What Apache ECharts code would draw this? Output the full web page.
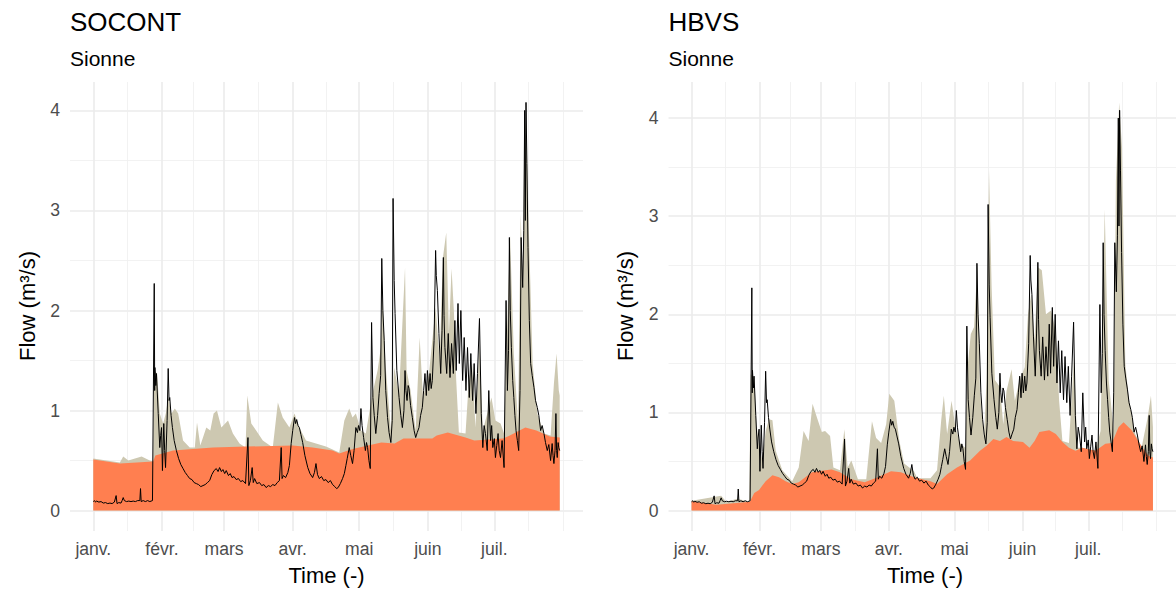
<!DOCTYPE html>
<html><head><meta charset="utf-8">
<script src="https://cdn.jsdelivr.net/npm/echarts@6/dist/echarts.min.js"></script>
<style>html,body{margin:0;padding:0;background:#fff}#c{width:1176px;height:590px}</style>
</head><body><div id="c"></div>
<script>
// ---- axis breaks (day of year, 0 = 1 Jan) ----
const monthStarts = [0, 31, 59, 90, 120, 151, 181];
const monthLabels = ['janv.', 'févr.', 'mars', 'avr.', 'mai', 'juin', 'juil.'];
const monthMids = [15.5, 45, 74.5, 105, 135.5, 166, 196.5, 212];
const yTicks = [0, 1, 2, 3, 4];
const yMinor = [0.5, 1.5, 2.5, 3.5];
const panelTitles = ['SOCONT', 'HBVS'];
const panelSubtitle = 'Sionne';
const xTitle = 'Time (-)';
const yTitle = 'Flow (m³/s)';

// ---- observed flow [day, m3/s] ----
const observed = [
[0,0.09],[0.5,0.10],[1,0.085],[1.5,0.095],[2.5,0.085],[3.5,0.09],[4.5,0.075],[5.5,0.08],[6.5,0.07],[7.5,0.075],[8.5,0.07],[9.5,0.085],[10.3,0.15],[10.7,0.07],[11.5,0.08],[12.5,0.075],[13,0.10],[13.5,0.13],[14,0.10],[15,0.09],[16,0.095],[17,0.09],[18,0.095],[19,0.09],[20,0.10],[21,0.10],[21.3,0.22],[21.6,0.09],[22.5,0.10],[23.5,0.09],[24.5,0.10],[25.5,0.09],[26.7,0.10],
[27.5,2.27],[27.7,1.20],[27.8,1.43],[28.2,1.25],[28.5,1.37],[29.3,0.97],[30,0.63],[30.4,0.75],[30.8,0.83],[31.2,0.40],[31.8,0.87],[32.2,0.60],[32.6,0.43],[33.3,0.90],[33.8,1.42],[34.2,1.10],[34.5,1.13],[35.1,0.95],[35.7,0.83],[36.5,0.70],[37.5,0.60],[38.5,0.52],[39.5,0.46],[40.5,0.42],[41.5,0.38],[42.5,0.35],[43.5,0.32],[44.5,0.31],[45.5,0.28],[46.5,0.27],[47.5,0.26],[48.5,0.24],[49.5,0.25],[50.5,0.26],[51.5,0.28],[52.5,0.30],[53.5,0.36],[54.5,0.40],[55.5,0.42],[56.3,0.39],[57,0.43],[57.8,0.39],[58.5,0.41],[59.3,0.37],[60,0.40],[61,0.35],[61.8,0.37],[62.6,0.33],[63.5,0.34],[64.5,0.31],[65.5,0.32],[66.5,0.29],[67.5,0.30],[68.7,0.27],[69.8,0.73],[70.2,0.25],[70.9,0.30],[71.7,0.43],[72.2,0.28],[72.8,0.32],[73.8,0.27],[75,0.28],[76,0.25],[77,0.26],[78,0.23],[79,0.25],[80,0.24],[81,0.26],[82,0.25],[83,0.28],[84,0.30],[84.8,0.63],[85.2,0.32],[85.8,0.35],[86.8,0.33],[87.8,0.38],[88.5,0.45],[89.3,0.67],[90,0.80],[90.8,0.93],[91.3,0.87],[91.8,0.91],[92.4,0.85],[93,0.83],[93.7,0.76],[94.5,0.68],[95.5,0.55],[96.8,0.43],[97.8,0.37],[99,0.33],[99.8,0.38],[100.5,0.47],[101.2,0.36],[102,0.32],[103,0.34],[104,0.30],[105,0.31],[106,0.28],[107,0.30],[108,0.26],[109,0.24],[109.8,0.22],[110.5,0.23],[111.5,0.27],[112.5,0.32],[113.3,0.37],[114,0.45],[114.6,0.52],[115.5,0.63],[116.2,0.55],[117,0.47],[117.7,0.60],[118.5,0.83],[119.2,0.78],[119.7,0.85],[120.3,0.80],[120.8,1.02],[121.3,0.85],[122,0.73],[122.8,0.60],[123.3,0.68],[123.8,0.63],[124.4,0.50],[125,0.42],[125.6,1.88],[126.2,1.13],[126.8,0.95],[127.5,0.77],[128.3,0.95],[129,1.17],[129.7,1.35],[130.2,2.52],[130.7,2.00],[131.3,1.70],[132,1.20],[132.8,0.93],[133.5,0.78],[134.3,0.68],[134.9,0.90],[135.3,3.12],[135.8,2.30],[136.2,1.97],[137,1.40],[138,1.13],[138.8,0.95],[139.5,0.83],[140.2,1.00],[140.7,1.40],[141.1,1.20],[141.6,1.10],[142.1,1.25],[142.5,1.22],[143.2,1.05],[144,0.93],[144.8,0.80],[145.5,0.73],[146.2,0.78],[147,0.83],[147.7,0.95],[148.5,1.03],[149.1,1.20],[149.7,1.37],[150.3,1.15],[150.8,1.40],[151.4,1.20],[152,1.37],[152.5,1.22],[153,1.30],[153.8,1.70],[154.5,2.60],[154.8,2.35],[155.3,2.20],[156,1.77],[156.8,1.37],[157.4,1.80],[158,2.53],[158.3,1.95],[158.7,1.63],[159.5,1.37],[160.2,1.77],[161,1.33],[161.7,1.67],[162.5,1.37],[163.2,1.90],[163.8,1.40],[164.6,2.07],[165.2,1.47],[165.9,2.00],[166.7,1.30],[167.4,1.73],[168.2,1.20],[168.9,1.63],[169.7,1.13],[170.4,1.57],[171.2,1.10],[171.9,1.47],[172.7,0.97],[173.4,1.37],[174.3,1.92],[175.1,0.97],[175.8,0.63],[176.4,0.85],[177,0.77],[177.8,0.60],[178.5,1.20],[179.3,0.70],[179.8,0.85],[180.3,0.63],[181,0.72],[181.5,0.53],[182.1,0.65],[182.7,0.77],[183.2,0.60],[183.8,0.53],[184.5,0.70],[185.4,0.43],[186.3,2.10],[186.9,1.20],[187.4,1.60],[187.8,2.73],[188.2,2.00],[188.7,1.63],[189.3,1.30],[189.8,1.13],[190.3,0.95],[190.8,0.80],[191.4,0.70],[192,0.60],[192.6,1.20],[193.1,2.73],[193.8,2.23],[194.3,2.80],[194.7,4.00],[195.0,2.90],[195.3,4.08],[195.7,3.47],[196.2,2.63],[196.8,1.90],[197.4,1.47],[198.1,1.35],[198.9,1.23],[199.6,1.10],[200.4,1.03],[201.1,0.95],[201.9,0.80],[202.6,0.85],[203.4,0.77],[204.1,0.68],[204.9,0.60],[205.6,0.66],[206.4,0.50],[207.1,0.67],[207.5,0.55],[207.9,0.47],[208.4,0.60],[208.8,0.97],[209.1,0.60],[209.4,0.53],[209.8,0.68],[210.1,0.63],[210.5,0.60]
];

// ---- SOCONT simulated total flow ----
const socontTotal = [
[0,0.52],[12,0.48],[13.5,0.54],[15.8,0.50],[21.8,0.54],[25.5,0.50],[27,0.49],[27.5,1.40],[28.8,1.37],[30,0.97],[31.5,0.87],[32.7,0.97],[33.8,1.13],[35.3,0.97],[36.8,1.02],[38.3,0.97],[40.5,0.70],[43.5,0.63],[45.8,0.63],[46.8,0.88],[48.3,0.65],[51,0.83],[52.8,0.80],[54.3,0.97],[55.8,1.00],[57.8,0.83],[60.8,0.90],[63,0.77],[66,0.67],[68.7,0.63],[69.5,1.15],[71.3,0.87],[73.5,0.80],[76.5,0.70],[81,0.63],[83.3,1.08],[85.5,0.93],[88.5,0.83],[90.8,0.97],[93,0.83],[96,0.70],[100.5,0.67],[105,0.64],[111,0.58],[113.3,0.90],[115.5,1.02],[117,0.93],[118.5,0.97],[120.8,0.80],[123,0.77],[124.5,0.97],[126,1.17],[128.3,1.40],[129.8,1.63],[130.5,2.13],[132,1.43],[134.3,0.80],[135.8,1.43],[138,1.17],[140.7,2.43],[141.4,1.40],[143.2,1.20],[145.5,0.80],[147.3,1.73],[148.8,1.13],[151.5,1.37],[154.5,2.03],[156.3,1.50],[157.8,2.53],[159.3,2.78],[160.5,1.77],[161.7,2.42],[162.8,1.97],[163.8,1.30],[165,0.78],[168,0.77],[169.5,1.30],[171,1.47],[172.5,0.83],[174.3,1.67],[175.8,0.80],[177.8,0.97],[179.7,1.13],[181.5,0.90],[183.8,0.87],[185.4,0.77],[186.5,1.63],[188.1,2.75],[189.8,1.57],[191.7,0.87],[192.9,2.97],[193.8,2.30],[194.7,4.00],[195.8,3.47],[196.8,2.63],[198.3,1.47],[200.4,0.97],[203.4,0.77],[206.4,0.75],[207.9,1.27],[209.1,1.57],[210.1,1.20],[210.5,1.15]
];
// ---- SOCONT simulated baseflow ----
const socontBase = [
[0,0.51],[12,0.47],[27,0.49],[28,0.55],[36,0.60],[54,0.63],[69,0.64],[90,0.65],[99,0.63],[108,0.60],[111,0.57],[115,0.60],[118,0.62],[130,0.68],[136,0.67],[140,0.72],[153,0.72],[155,0.75],[160,0.78],[168,0.73],[172,0.70],[185,0.72],[188,0.75],[195,0.83],[200,0.80],[206,0.74],[210.5,0.73]
];

// ---- HBVS simulated total flow ----
const hbvsTotal = [
[0,0.10],[13.5,0.15],[15.8,0.09],[21,0.12],[26.3,0.09],[27,1.39],[28.6,1.36],[29.6,0.88],[30.8,0.65],[32.3,0.51],[33.8,0.81],[35.3,0.93],[36.9,0.92],[38.4,0.61],[41.4,0.41],[45.9,0.30],[48.9,0.44],[51.1,0.81],[53.4,0.71],[55.2,1.09],[57.2,0.95],[59.4,0.80],[60.9,0.81],[63.2,0.76],[64.7,0.44],[67.7,0.41],[69.7,0.83],[71.2,0.44],[72.9,0.51],[75.9,0.32],[79.7,0.32],[82.3,0.91],[84.2,0.74],[86.5,0.69],[88.8,0.88],[90.2,1.19],[92.5,1.12],[94.8,0.71],[97,0.48],[101.5,0.40],[103,0.33],[109,0.33],[112,0.41],[113.9,0.92],[115.1,1.17],[116.6,0.78],[118.6,1.12],[120.4,0.85],[122.6,0.68],[124.9,0.64],[126.1,1.50],[127.4,1.80],[128.9,1.87],[130.4,2.50],[131.6,1.19],[133.4,0.75],[134.6,1.33],[135.7,3.48],[136.9,2.28],[138.4,1.33],[140.7,1.26],[142.2,0.88],[143.7,1.22],[146,1.44],[147.5,1.12],[149.7,1.33],[152,1.46],[153.5,2.00],[155,2.21],[156.5,1.73],[158,2.48],[159.8,2.45],[161.7,2.00],[164,2.04],[166.2,1.83],[167.7,1.12],[169.2,0.71],[172.2,0.69],[174.5,1.56],[176,0.64],[178.3,0.64],[184.3,0.61],[186.6,0.81],[188.5,3.07],[190.3,1.33],[192.6,0.81],[193.6,3.36],[195.1,4.16],[196.4,3.70],[197.9,1.50],[199.4,1.15],[202.4,0.78],[205.4,0.65],[208.1,0.95],[209.6,1.17],[210.5,0.85]
];
// ---- HBVS simulated baseflow ----
const hbvsBase = [
[0,0.095],[11.3,0.06],[21.8,0.08],[26.6,0.09],[28.6,0.18],[30.8,0.21],[33.8,0.30],[36.9,0.36],[39.9,0.34],[42.9,0.30],[45.9,0.27],[48.9,0.29],[54.9,0.39],[60.9,0.41],[63.9,0.42],[67.7,0.39],[72.9,0.32],[79,0.29],[85,0.34],[91,0.40],[95.5,0.39],[101.5,0.34],[109,0.30],[112,0.27],[116.6,0.37],[121.1,0.44],[127.1,0.51],[131.6,0.61],[134.6,0.66],[137.7,0.73],[140.7,0.71],[143.7,0.75],[146.7,0.71],[151.2,0.70],[154.2,0.64],[156.5,0.71],[158.7,0.80],[163.2,0.82],[166.2,0.78],[169.2,0.70],[172.2,0.64],[175.2,0.61],[178.3,0.64],[184.3,0.61],[188.8,0.68],[191.8,0.69],[194.8,0.85],[197.1,0.90],[200.8,0.82],[205.4,0.65],[208.4,0.56],[210.5,0.54]
];

const FONT = '"Liberation Sans", Arial, Helvetica, sans-serif';
const BEIGE = '#CDC8B1', CORAL = '#FF7F50';
const panels = [
  {left: 70, yMin: -0.204, yMax: 4.284, total: socontTotal, base: socontBase},
  {left: 668.5, yMin: -0.208, yMax: 4.368, total: hbvsTotal, base: hbvsBase}
];
const X_MIN = -10.525, X_MAX = 221.025;

const grids = [], xAxes = [], yAxes = [], series = [], graphic = [];
panels.forEach((p, i) => {
  grids.push({left: p.left, top: 82, width: 513, height: 449, containLabel: false});
  const gx = xAxes.length, gy = yAxes.length;
  xAxes.push({
    type: 'value', gridIndex: i, min: X_MIN, max: X_MAX, position: 'bottom',
    axisLine: {show: false},
    axisTick: {show: false, customValues: monthStarts},
    axisLabel: {show: true, customValues: monthStarts, margin: 9, color: '#4D4D4D', fontSize: 17.6, fontFamily: FONT,
      formatter: v => monthLabels[monthStarts.indexOf(v)] || ''},
    splitLine: {show: true, lineStyle: {color: '#EBEBEB', width: 1.6}}
  });
  xAxes.push({
    type: 'value', gridIndex: i, min: X_MIN, max: X_MAX, position: 'top',
    axisLine: {show: false}, axisLabel: {show: false},
    axisTick: {show: false, customValues: monthMids},
    splitLine: {show: true, lineStyle: {color: '#EFEFEF', width: 0.8}}
  });
  yAxes.push({
    type: 'value', gridIndex: i, min: p.yMin, max: p.yMax, position: 'left',
    axisLine: {show: false},
    axisTick: {show: false, customValues: yTicks},
    axisLabel: {show: true, customValues: yTicks, margin: 10, color: '#4D4D4D', fontSize: 17.6, fontFamily: FONT},
    splitLine: {show: true, lineStyle: {color: '#EBEBEB', width: 1.6}}
  });
  yAxes.push({
    type: 'value', gridIndex: i, min: p.yMin, max: p.yMax, position: 'right',
    axisLine: {show: false}, axisLabel: {show: false},
    axisTick: {show: false, customValues: yMinor},
    splitLine: {show: true, lineStyle: {color: '#EFEFEF', width: 0.8}}
  });
  const common = {type: 'line', xAxisIndex: gx, yAxisIndex: gy, showSymbol: false, symbol: 'none', animation: false, silent: true};
  series.push(Object.assign({}, common, {name: 'sim', data: p.total, lineStyle: {width: 0}, areaStyle: {color: BEIGE, opacity: 1}, z: 2}));
  series.push(Object.assign({}, common, {name: 'base', data: p.base, lineStyle: {width: 0}, areaStyle: {color: CORAL, opacity: 1}, z: 3}));
  series.push(Object.assign({}, common, {name: 'obs', data: observed, lineStyle: {width: 1, color: '#000'}, z: 4}));

  const plotCenterX = p.left + 513 / 2;
  graphic.push({type: 'text', x: p.left, y: 22, style: {text: panelTitles[i], fill: '#000', fontSize: 26, fontFamily: FONT, align: 'left', verticalAlign: 'middle', textAlign: 'left', textVerticalAlign: 'middle'}});
  graphic.push({type: 'text', x: p.left, y: 58, style: {text: panelSubtitle, fill: '#000', fontSize: 21, fontFamily: FONT, align: 'left', verticalAlign: 'middle', textAlign: 'left', textVerticalAlign: 'middle'}});
  graphic.push({type: 'text', x: plotCenterX, y: 575, style: {text: xTitle, fill: '#000', fontSize: 22, fontFamily: FONT, align: 'center', verticalAlign: 'middle', textAlign: 'center', textVerticalAlign: 'middle'}});
  graphic.push({type: 'text', x: p.left - 43, y: 306, rotation: Math.PI / 2, style: {text: yTitle, fill: '#000', fontSize: 22, fontFamily: FONT, align: 'center', verticalAlign: 'middle', textAlign: 'center', textVerticalAlign: 'middle'}});
});

const chart = echarts.init(document.getElementById('c'), null, {renderer: 'svg', width: 1176, height: 590});
chart.setOption({
  animation: false,
  backgroundColor: '#fff',
  grid: grids, xAxis: xAxes, yAxis: yAxes, series: series, graphic: graphic
});
</script>
</body></html>
